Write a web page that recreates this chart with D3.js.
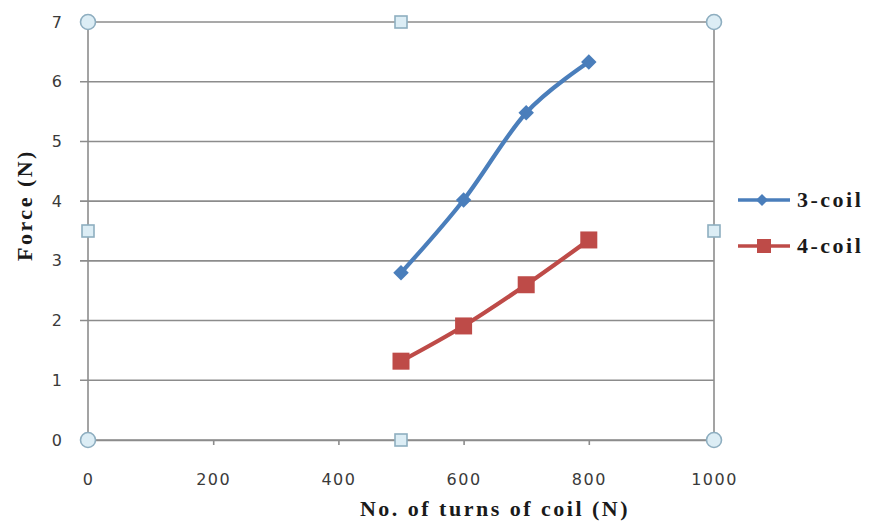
<!DOCTYPE html>
<html>
<head>
<meta charset="utf-8">
<script src="https://cdn.jsdelivr.net/npm/d3@7"></script>
<style>
  html, body { margin: 0; padding: 0; background: #fff; }
  svg { display: block; }
</style>
</head>
<body>
<svg id="chart" width="871" height="523"></svg>
<script>
// Number of turns of coil
const turns = [500, 600, 700, 800];
// Force (N) for each coil arrangement
const force3coil = [2.80, 4.02, 5.48, 6.33];
const force4coil = [1.32, 1.91, 2.60, 3.35];
const seriesNames = ["3-coil", "4-coil"];
const xTicks = [0, 200, 400, 600, 800, 1000];
const yTicks = [0, 1, 2, 3, 4, 5, 6, 7];

const svg = d3.select("#chart");
const plotLeft = 88, plotRight = 714, plotTop = 22, plotBottom = 440;

const x = d3.scaleLinear().domain([0, 1000]).range([plotLeft, plotRight]);
const y = d3.scaleLinear().domain([0, 7]).range([plotBottom, plotTop]);

const gridColor = "#8c8c8c";
const tickFont = "'DejaVu Sans', sans-serif";
const titleFont = "'Liberation Serif', 'Times New Roman', serif";

// Horizontal gridlines
svg.append("g")
  .selectAll("line")
  .data(yTicks)
  .join("line")
  .attr("x1", plotLeft - 8).attr("x2", plotRight)
  .attr("y1", d => y(d)).attr("y2", d => y(d))
  .attr("stroke", gridColor).attr("stroke-width", 1.6);

// Plot frame: left axis and right edge
svg.append("line").attr("x1", plotLeft).attr("x2", plotLeft).attr("y1", plotTop).attr("y2", plotBottom)
  .attr("stroke", gridColor).attr("stroke-width", 1.6);
svg.append("line").attr("x1", plotRight).attr("x2", plotRight).attr("y1", plotTop).attr("y2", plotBottom)
  .attr("stroke", gridColor).attr("stroke-width", 1.6);

// X axis
const xAxis = svg.append("g")
  .attr("transform", `translate(0,${plotBottom})`)
  .call(d3.axisBottom(x).tickValues(xTicks).tickSize(5).tickPadding(29).tickFormat(d3.format("d")));
xAxis.select(".domain").attr("stroke", gridColor).attr("stroke-width", 1.6);
xAxis.selectAll(".tick line").attr("stroke", gridColor).attr("stroke-width", 1.6);
xAxis.selectAll("text")
  .attr("font-family", tickFont).attr("font-size", 16)
  .attr("letter-spacing", 1.5).attr("fill", "#3a3a3a");

// Y axis labels
const yAxis = svg.append("g")
  .attr("transform", `translate(${plotLeft},0)`)
  .call(d3.axisLeft(y).tickValues(yTicks).tickSize(0).tickPadding(26).tickFormat(d3.format("d")));
yAxis.select(".domain").remove();
yAxis.selectAll("text")
  .attr("font-family", tickFont).attr("font-size", 16).attr("fill", "#3a3a3a");

// Series lines (smoothed)
const line = d3.line()
  .x((d, i) => x(turns[i]))
  .y(d => y(d))
  .curve(d3.curveCatmullRom.alpha(0));

const blue = "#4a7ebb", red = "#be4b48";

svg.append("path").datum(force3coil).attr("d", line)
  .attr("fill", "none").attr("stroke", blue).attr("stroke-width", 4.2);
svg.append("path").datum(force4coil).attr("d", line)
  .attr("fill", "none").attr("stroke", red).attr("stroke-width", 4.2);

// Markers
const diamond = d3.symbol().type(d3.symbolSquare).size(120);
svg.append("g").selectAll("path")
  .data(force3coil)
  .join("path")
  .attr("d", diamond)
  .attr("transform", (d, i) => `translate(${x(turns[i])},${y(d)}) rotate(45)`)
  .attr("fill", blue);

const sq = 17;
svg.append("g").selectAll("rect")
  .data(force4coil)
  .join("rect")
  .attr("x", (d, i) => x(turns[i]) - sq / 2)
  .attr("y", d => y(d) - sq / 2)
  .attr("width", sq).attr("height", sq)
  .attr("fill", red);

// Selection handles on the plot frame
const handleFill = "#dcedf5", handleStroke = "#8eaec0";
const corners = [[0, 7], [1000, 7], [0, 0], [1000, 0]];
svg.append("g").selectAll("circle")
  .data(corners)
  .join("circle")
  .attr("cx", d => x(d[0])).attr("cy", d => y(d[1]))
  .attr("r", 7.5)
  .attr("fill", handleFill).attr("stroke", handleStroke).attr("stroke-width", 1.6);
const mids = [[500, 7], [500, 0], [0, 3.5], [1000, 3.5]];
svg.append("g").selectAll("rect")
  .data(mids)
  .join("rect")
  .attr("x", d => x(d[0]) - 6).attr("y", d => y(d[1]) - 6)
  .attr("width", 12).attr("height", 12)
  .attr("fill", handleFill).attr("stroke", handleStroke).attr("stroke-width", 1.6);

// Axis titles
svg.append("text")
  .attr("x", 495).attr("y", 516)
  .attr("text-anchor", "middle")
  .attr("font-family", titleFont).attr("letter-spacing", 2.5)
  .attr("font-weight", "bold").attr("font-size", 22).attr("fill", "#1a1a1a")
  .text("No. of turns of coil (N)");

svg.append("text")
  .attr("transform", "translate(32,205) rotate(-90)")
  .attr("text-anchor", "middle")
  .attr("font-family", titleFont).attr("letter-spacing", 2.5)
  .attr("font-weight", "bold").attr("font-size", 22).attr("fill", "#1a1a1a")
  .text("Force (N)");

// Legend
const legend = svg.append("g");
const legendRows = [
  { name: seriesNames[0], color: blue, y: 200, marker: "diamond" },
  { name: seriesNames[1], color: red, y: 246, marker: "square" }
];
legendRows.forEach(r => {
  legend.append("line")
    .attr("x1", 738).attr("x2", 790).attr("y1", r.y).attr("y2", r.y)
    .attr("stroke", r.color).attr("stroke-width", 3.5);
  if (r.marker === "diamond") {
    legend.append("path").attr("d", d3.symbol().type(d3.symbolSquare).size(72))
      .attr("transform", `translate(762,${r.y}) rotate(45)`).attr("fill", r.color);
  } else {
    legend.append("rect").attr("x", 757).attr("y", r.y - 7)
      .attr("width", 14).attr("height", 14).attr("fill", r.color);
  }
  legend.append("text")
    .attr("x", 797).attr("y", r.y + 7)
    .attr("font-family", titleFont).attr("letter-spacing", 2.5)
    .attr("font-weight", "bold").attr("font-size", 22).attr("fill", "#1a1a1a")
    .text(r.name);
});
</script>
</body>
</html>
